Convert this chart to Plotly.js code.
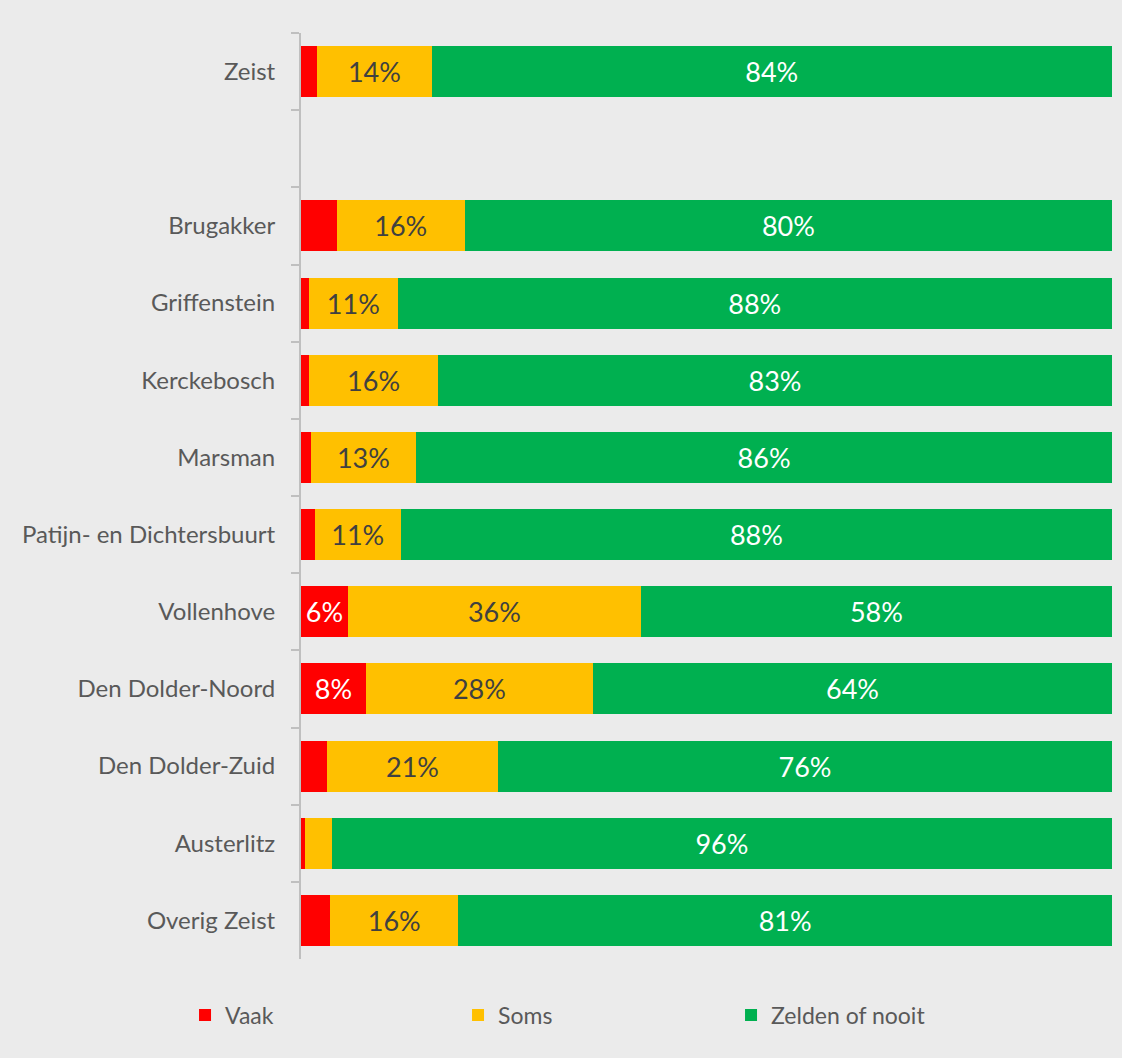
<!DOCTYPE html>
<html>
<head>
<meta charset="utf-8">
<script src="https://cdn.plot.ly/plotly-3.0.1.min.js"></script>
<style>html,body{margin:0;padding:0;background:#ebebeb;}#chart{width:1122px;height:1058px;}</style>
</head>
<body>
<div id="chart"></div>
<script>
const categories = ["Zeist", " ", "Brugakker", "Griffenstein", "Kerckebosch", "Marsman",
  "Patijn- en Dichtersbuurt", "Vollenhove", "Den Dolder-Noord", "Den Dolder-Zuid",
  "Austerlitz", "Overig Zeist"];
const vaak   = [2.0, 0, 4.4, 1.0, 1.0, 1.2, 1.7, 5.8, 8.0, 3.2, 0.5, 3.6];
const soms   = [14.1, 0, 15.8, 10.9, 15.9, 13.0, 10.6, 36.1, 28.0, 21.1, 3.3, 15.8];
const zelden = [83.9, 0, 79.8, 88.1, 83.1, 85.8, 87.7, 58.1, 64.0, 75.7, 96.2, 80.6];
const seriesNames = ["Vaak", "Soms", "Zelden of nooit"];

const colors = ["#ff0000", "#ffc000", "#00b050"];
const textColors = ["#ffffff", "#404040", "#ffffff"];
const lab = v => (v >= 5 ? Math.round(v) + "%" : "");

const traces = [vaak, soms, zelden].map((vals, i) => ({
  type: "bar",
  orientation: "h",
  name: seriesNames[i],
  x: vals,
  y: categories,
  text: vals.map(lab),
  textposition: "inside",
  insidetextanchor: "middle",
  textangle: 0,
  constraintext: "none",
  textfont: {family: "Lato, sans-serif", size: 27, color: textColors[i]},
  marker: {color: colors[i], line: {width: 0}},
  hoverinfo: "none"
}));

const layout = {
  width: 1122, height: 1058,
  paper_bgcolor: "#ebebeb", plot_bgcolor: "#ebebeb",
  margin: {l: 301, r: 10, t: 33, b: 99},
  barmode: "stack",
  bargap: 0.34,
  font: {family: "Lato, sans-serif", color: "#595959"},
  xaxis: {range: [0, 100], visible: false, fixedrange: true},
  yaxis: {
    type: "category",
    categoryorder: "array",
    categoryarray: categories,
    range: [11.5, -0.5],
    showline: true, linecolor: "#bfbfbf", linewidth: 2,
    ticks: "outside", tickson: "boundaries", ticklen: 8, tickwidth: 2, tickcolor: "#bfbfbf",
    showgrid: false, zeroline: false,
    tickfont: {family: "Lato, sans-serif", size: 24, color: "#595959"},
    ticklabelstandoff: 19
  },
  showlegend: true,
  legend: {
    orientation: "h",
    xref: "paper", yref: "paper",
    x: -0.143, xanchor: "left",
    y: -0.0605, yanchor: "middle",
    entrywidth: 228, entrywidthmode: "pixels",
    traceorder: "normal",
    font: {family: "Lato, sans-serif", size: 23, color: "#595959"},
    bgcolor: "rgba(0,0,0,0)"
  }
};

Plotly.newPlot("chart", traces, layout, {staticPlot: true});
</script>
</body>
</html>
